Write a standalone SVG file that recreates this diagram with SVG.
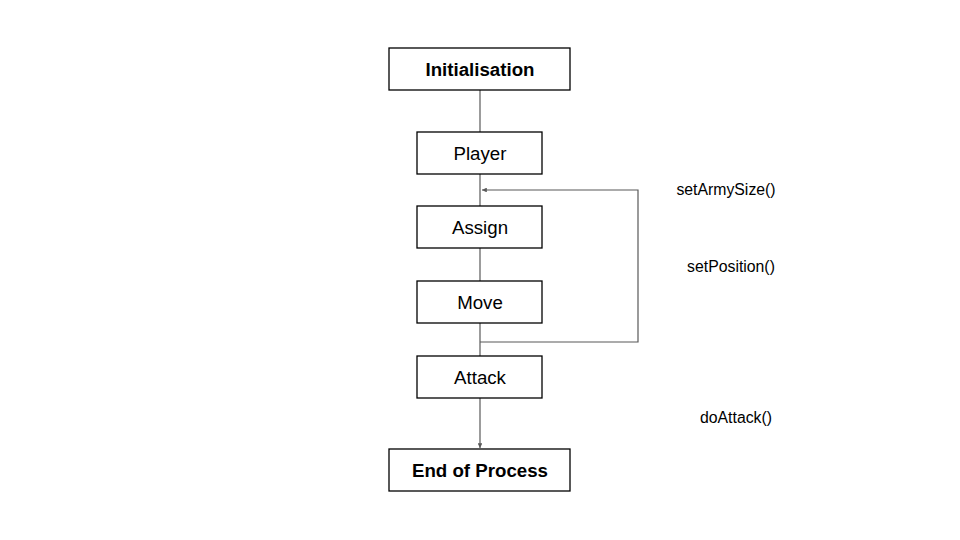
<svg xmlns="http://www.w3.org/2000/svg" width="960" height="540" viewBox="0 0 960 540">
<style>
.box{fill:#fff;stroke:#000;stroke-width:1.3}
.lbl{font-family:"Liberation Sans",Arial,sans-serif;font-size:18.7px;fill:#000;text-anchor:middle;dominant-baseline:central}
.b{font-weight:bold}
.side{font-family:"Liberation Sans",Arial,sans-serif;font-size:15.8px;fill:#000;text-anchor:middle;dominant-baseline:central}
.con{fill:none;stroke:#595959;stroke-width:1.2}
</style>
<defs>
<marker id="arr" viewBox="0 0 10 10" refX="10" refY="5" markerWidth="4" markerHeight="4" orient="auto" markerUnits="strokeWidth">
<path d="M0,0 L10,5 L0,10 z" fill="#595959"/>
</marker>
</defs>
<rect width="960" height="540" fill="#fff"/>
<g id="connectors">
<line class="con" x1="480" y1="90" x2="480" y2="132"/>
<line class="con" x1="480" y1="174" x2="480" y2="206"/>
<line class="con" x1="480" y1="248" x2="480" y2="281"/>
<line class="con" x1="480" y1="323" x2="480" y2="356"/>
<polyline class="con" points="480,342 638,342 638,190 482,190" marker-end="url(#arr)"/>
<line class="con" x1="480" y1="398" x2="480" y2="448" marker-end="url(#arr)"/>
</g>
<g id="n-init"><rect class="box" x="389" y="48" width="181" height="42"/><text class="lbl b" x="480" y="69">Initialisation</text></g>
<g id="n-player"><rect class="box" x="417" y="132" width="125" height="42"/><text class="lbl" x="480" y="153">Player</text></g>
<g id="n-assign"><rect class="box" x="417" y="206" width="125" height="42"/><text class="lbl" x="480" y="227">Assign</text></g>
<g id="n-move"><rect class="box" x="417" y="281" width="125" height="42"/><text class="lbl" x="480" y="302">Move</text></g>
<g id="n-attack"><rect class="box" x="417" y="356" width="125" height="42"/><text class="lbl" x="480" y="377">Attack</text></g>
<g id="n-end"><rect class="box" x="389" y="449" width="181" height="42"/><text class="lbl b" x="480" y="470">End of Process</text></g>
<g id="labels">
<text class="side" x="726" y="189">setArmySize()</text>
<text class="side" x="731" y="266">setPosition()</text>
<text class="side" x="736" y="417">doAttack()</text>
</g>
</svg>
